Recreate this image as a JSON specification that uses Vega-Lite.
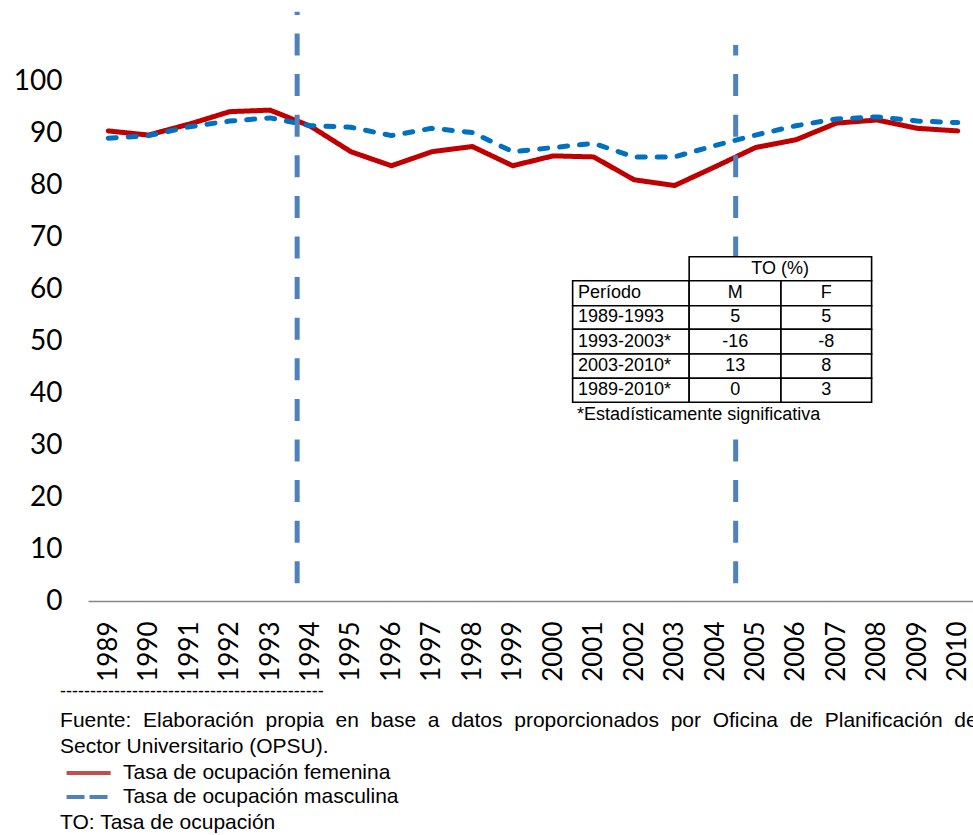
{
  "$schema": "https://vega.github.io/schema/vega-lite/v6.json",
  "width": 890,
  "height": 598,
  "autosize": "none",
  "padding": {"left": 88, "top": 3, "right": 0, "bottom": 234},
  "background": "white",
  "config": {"view": {"stroke": null}, "axis": {"grid": false}},
  "resolve": {"scale": {"strokeDash": "independent", "stroke": "independent", "color": "independent"}},
  "datasets": {
    "series": [
      {"year": 1989, "serie": "Tasa de ocupación femenina", "value": 90.4},
      {"year": 1990, "serie": "Tasa de ocupación femenina", "value": 89.6},
      {"year": 1991, "serie": "Tasa de ocupación femenina", "value": 91.7},
      {"year": 1992, "serie": "Tasa de ocupación femenina", "value": 94.1},
      {"year": 1993, "serie": "Tasa de ocupación femenina", "value": 94.4},
      {"year": 1994, "serie": "Tasa de ocupación femenina", "value": 91.3},
      {"year": 1995, "serie": "Tasa de ocupación femenina", "value": 86.4},
      {"year": 1996, "serie": "Tasa de ocupación femenina", "value": 83.7},
      {"year": 1997, "serie": "Tasa de ocupación femenina", "value": 86.4},
      {"year": 1998, "serie": "Tasa de ocupación femenina", "value": 87.4},
      {"year": 1999, "serie": "Tasa de ocupación femenina", "value": 83.7},
      {"year": 2000, "serie": "Tasa de ocupación femenina", "value": 85.6},
      {"year": 2001, "serie": "Tasa de ocupación femenina", "value": 85.4},
      {"year": 2002, "serie": "Tasa de ocupación femenina", "value": 81.0},
      {"year": 2003, "serie": "Tasa de ocupación femenina", "value": 79.9},
      {"year": 2004, "serie": "Tasa de ocupación femenina", "value": 83.5},
      {"year": 2005, "serie": "Tasa de ocupación femenina", "value": 87.2},
      {"year": 2006, "serie": "Tasa de ocupación femenina", "value": 88.7},
      {"year": 2007, "serie": "Tasa de ocupación femenina", "value": 91.9},
      {"year": 2008, "serie": "Tasa de ocupación femenina", "value": 92.5},
      {"year": 2009, "serie": "Tasa de ocupación femenina", "value": 90.9},
      {"year": 2010, "serie": "Tasa de ocupación femenina", "value": 90.4},
      {"year": 1989, "serie": "Tasa de ocupación masculina", "value": 89.0},
      {"year": 1990, "serie": "Tasa de ocupación masculina", "value": 89.5},
      {"year": 1991, "serie": "Tasa de ocupación masculina", "value": 91.2},
      {"year": 1992, "serie": "Tasa de ocupación masculina", "value": 92.3},
      {"year": 1993, "serie": "Tasa de ocupación masculina", "value": 92.9},
      {"year": 1994, "serie": "Tasa de ocupación masculina", "value": 91.4},
      {"year": 1995, "serie": "Tasa de ocupación masculina", "value": 91.1},
      {"year": 1996, "serie": "Tasa de ocupación masculina", "value": 89.5},
      {"year": 1997, "serie": "Tasa de ocupación masculina", "value": 90.9},
      {"year": 1998, "serie": "Tasa de ocupación masculina", "value": 90.1},
      {"year": 1999, "serie": "Tasa de ocupación masculina", "value": 86.4},
      {"year": 2000, "serie": "Tasa de ocupación masculina", "value": 87.2},
      {"year": 2001, "serie": "Tasa de ocupación masculina", "value": 88.0},
      {"year": 2002, "serie": "Tasa de ocupación masculina", "value": 85.4},
      {"year": 2003, "serie": "Tasa de ocupación masculina", "value": 85.4},
      {"year": 2004, "serie": "Tasa de ocupación masculina", "value": 87.6},
      {"year": 2005, "serie": "Tasa de ocupación masculina", "value": 89.6},
      {"year": 2006, "serie": "Tasa de ocupación masculina", "value": 91.4},
      {"year": 2007, "serie": "Tasa de ocupación masculina", "value": 92.7},
      {"year": 2008, "serie": "Tasa de ocupación masculina", "value": 93.1},
      {"year": 2009, "serie": "Tasa de ocupación masculina", "value": 92.3},
      {"year": 2010, "serie": "Tasa de ocupación masculina", "value": 92.0}
    ],
    "rules": [
      {"x": 1993.67, "y0": 3.4, "y1": 113.3},
      {"x": 2004.51, "y0": 3.4, "y1": 106.9}
    ],
    "bg": [
      {"x0": 2000.48, "x1": 2007.87, "y0": 33.3, "y1": 66.21}
    ],
    "cells": [
      {"x0": 2003.36, "x1": 2007.87, "y0": 61.6, "y1": 66.21},
      {"x0": 2000.48, "x1": 2003.36, "y0": 56.79, "y1": 61.6},
      {"x0": 2003.36, "x1": 2005.63, "y0": 56.79, "y1": 61.6},
      {"x0": 2005.63, "x1": 2007.87, "y0": 56.79, "y1": 61.6},
      {"x0": 2000.48, "x1": 2003.36, "y0": 52.25, "y1": 56.79},
      {"x0": 2003.36, "x1": 2005.63, "y0": 52.25, "y1": 56.79},
      {"x0": 2005.63, "x1": 2007.87, "y0": 52.25, "y1": 56.79},
      {"x0": 2000.48, "x1": 2003.36, "y0": 47.5, "y1": 52.25},
      {"x0": 2003.36, "x1": 2005.63, "y0": 47.5, "y1": 52.25},
      {"x0": 2005.63, "x1": 2007.87, "y0": 47.5, "y1": 52.25},
      {"x0": 2000.48, "x1": 2003.36, "y0": 42.83, "y1": 47.5},
      {"x0": 2003.36, "x1": 2005.63, "y0": 42.83, "y1": 47.5},
      {"x0": 2005.63, "x1": 2007.87, "y0": 42.83, "y1": 47.5},
      {"x0": 2000.48, "x1": 2003.36, "y0": 38.21, "y1": 42.83},
      {"x0": 2003.36, "x1": 2005.63, "y0": 38.21, "y1": 42.83},
      {"x0": 2005.63, "x1": 2007.87, "y0": 38.21, "y1": 42.83}
    ],
    "centertext": [
      {"label": "TO (%)", "x": 2005.61, "y": 63.9},
      {"label": "M", "x": 2004.5, "y": 59.19},
      {"label": "F", "x": 2006.75, "y": 59.19},
      {"label": "5", "x": 2004.5, "y": 54.52},
      {"label": "5", "x": 2006.75, "y": 54.52},
      {"label": "-16", "x": 2004.5, "y": 49.87},
      {"label": "-8", "x": 2006.75, "y": 49.87},
      {"label": "13", "x": 2004.5, "y": 45.15},
      {"label": "8", "x": 2006.75, "y": 45.15},
      {"label": "0", "x": 2004.5, "y": 40.52},
      {"label": "3", "x": 2006.75, "y": 40.52}
    ],
    "lefttext": [
      {"label": "Período", "x": 2000.61, "y": 59.19},
      {"label": "1989-1993", "x": 2000.61, "y": 54.52},
      {"label": "1993-2003*", "x": 2000.61, "y": 49.87},
      {"label": "2003-2010*", "x": 2000.61, "y": 45.15},
      {"label": "1989-2010*", "x": 2000.61, "y": 40.52},
      {"label": "*Estadísticamente significativa", "x": 2000.59, "y": 35.77},
      {"label": "--------------------------------------------", "x": 1987.81, "y": -17.5}
    ],
    "footer": [
      {"label": "Fuente:\u00a0 Elaboración\u00a0 propia\u00a0 en\u00a0 base\u00a0 a\u00a0 datos\u00a0 proporcionados\u00a0 por\u00a0 Oficina\u00a0 de\u00a0 Planificación\u00a0 del", "x": 1987.81, "y": -23.0},
      {"label": "Sector Universitario (OPSU).", "x": 1987.81, "y": -28.1},
      {"label": "Tasa de ocupación femenina", "x": 1989.365, "y": -33.1},
      {"label": "Tasa de ocupación masculina", "x": 1989.365, "y": -37.7},
      {"label": "TO: Tasa de ocupación", "x": 1987.81, "y": -42.6}
    ],
    "legendlines": [
      {"serie": "Tasa de ocupación femenina", "x0": 1987.97, "x1": 1989.06, "y": -33.1},
      {"serie": "Tasa de ocupación masculina", "x0": 1987.97, "x1": 1988.99, "y": -37.7}
    ]
  },
  "layer": [
    {
      "data": {"name": "series"},
      "mark": {"type": "line", "strokeWidth": 5, "strokeCap": "round", "strokeJoin": "round"},
      "encoding": {
        "x": {
          "field": "year", "type": "quantitative", "title": null,
          "scale": {"domain": [1988.5, 2010.5], "nice": false, "zero": false},
          "axis": {
            "values": [1989,1990,1991,1992,1993,1994,1995,1996,1997,1998,1999,2000,2001,2002,2003,2004,2005,2006,2007,2008,2009,2010],
            "format": "d", "labelAngle": -90, "labelAlign": "right", "labelBaseline": "middle",
            "labelFont": "Lato", "labelFontSize": 26, "labelColor": "#000000",
            "labelPadding": 20, "labelFlush": false, "labelOverlap": false,
            "ticks": false, "domain": true, "domainColor": "#868686", "domainWidth": 1.5, "grid": false
          }
        },
        "y": {
          "field": "value", "type": "quantitative", "title": null,
          "scale": {"domain": [0, 115], "nice": false, "zero": true},
          "axis": {
            "values": [0,10,20,30,40,50,60,70,80,90,100],
            "labelFont": "Lato", "labelFontSize": 28, "labelColor": "#000000",
            "labelPadding": 26, "ticks": false, "domain": false, "grid": false, "labelFlush": false
          }
        },
        "color": {
          "field": "serie", "type": "nominal",
          "scale": {"domain": ["Tasa de ocupación femenina", "Tasa de ocupación masculina"], "range": ["#c00000", "#0070c0"]},
          "legend": null
        },
        "strokeDash": {
          "field": "serie", "type": "nominal",
          "scale": {"domain": ["Tasa de ocupación femenina", "Tasa de ocupación masculina"], "range": [[1, 0], [8, 12]]},
          "legend": null
        }
      }
    },
    {
      "data": {"name": "legendlines"},
      "mark": {"type": "rule", "strokeWidth": 4, "strokeCap": "butt"},
      "encoding": {
        "x": {"field": "x0", "type": "quantitative", "title": null, "scale": {"domain": [1988.5, 2010.5], "nice": false, "zero": false}},
        "x2": {"field": "x1"},
        "y": {"field": "y", "type": "quantitative", "title": null, "scale": {"domain": [0, 115], "nice": false, "zero": true}},
        "stroke": {
          "field": "serie", "type": "nominal", "legend": null,
          "scale": {"domain": ["Tasa de ocupación femenina", "Tasa de ocupación masculina"], "range": ["#c0504d", "#4f81bd"]}
        },
        "strokeDash": {
          "field": "serie", "type": "nominal", "legend": null,
          "scale": {"domain": ["Tasa de ocupación femenina", "Tasa de ocupación masculina"], "range": [[1, 0], [18, 5]]}
        }
      }
    },
    {
      "data": {"name": "rules"},
      "mark": {"type": "rule", "color": "#4f81bd", "strokeWidth": 5, "strokeDash": [22, 18.6], "strokeCap": "butt"},
      "encoding": {
        "x": {"field": "x", "type": "quantitative", "title": null, "scale": {"domain": [1988.5, 2010.5], "nice": false, "zero": false}},
        "y": {"field": "y0", "type": "quantitative", "title": null, "scale": {"domain": [0, 115], "nice": false, "zero": true}},
        "y2": {"field": "y1"}
      }
    },
    {
      "data": {"name": "bg"},
      "mark": {"type": "rect", "fill": "white", "stroke": null},
      "encoding": {
        "x": {"field": "x0", "type": "quantitative", "title": null, "scale": {"domain": [1988.5, 2010.5], "nice": false, "zero": false}},
        "x2": {"field": "x1"},
        "y": {"field": "y0", "type": "quantitative", "title": null, "scale": {"domain": [0, 115], "nice": false, "zero": true}},
        "y2": {"field": "y1"}
      }
    },
    {
      "data": {"name": "cells"},
      "mark": {"type": "rect", "fill": "white", "stroke": "#000000", "strokeWidth": 1.6},
      "encoding": {
        "x": {"field": "x0", "type": "quantitative", "title": null, "scale": {"domain": [1988.5, 2010.5], "nice": false, "zero": false}},
        "x2": {"field": "x1"},
        "y": {"field": "y0", "type": "quantitative", "title": null, "scale": {"domain": [0, 115], "nice": false, "zero": true}},
        "y2": {"field": "y1"}
      }
    },
    {
      "data": {"name": "centertext"},
      "mark": {"type": "text", "font": "Liberation Sans", "fontSize": 18, "color": "#000000", "align": "center", "baseline": "middle"},
      "encoding": {
        "x": {"field": "x", "type": "quantitative", "title": null, "scale": {"domain": [1988.5, 2010.5], "nice": false, "zero": false}},
        "y": {"field": "y", "type": "quantitative", "title": null, "scale": {"domain": [0, 115], "nice": false, "zero": true}},
        "text": {"field": "label", "type": "nominal"}
      }
    },
    {
      "data": {"name": "lefttext"},
      "mark": {"type": "text", "font": "Liberation Sans", "fontSize": 18, "color": "#000000", "align": "left", "baseline": "middle", "limit": 0},
      "encoding": {
        "x": {"field": "x", "type": "quantitative", "title": null, "scale": {"domain": [1988.5, 2010.5], "nice": false, "zero": false}},
        "y": {"field": "y", "type": "quantitative", "title": null, "scale": {"domain": [0, 115], "nice": false, "zero": true}},
        "text": {"field": "label", "type": "nominal"}
      }
    },
    {
      "data": {"name": "footer"},
      "mark": {"type": "text", "font": "Liberation Sans", "fontSize": 21, "color": "#000000", "align": "left", "baseline": "middle", "limit": 0},
      "encoding": {
        "x": {"field": "x", "type": "quantitative", "title": null, "scale": {"domain": [1988.5, 2010.5], "nice": false, "zero": false}},
        "y": {"field": "y", "type": "quantitative", "title": null, "scale": {"domain": [0, 115], "nice": false, "zero": true}},
        "text": {"field": "label", "type": "nominal"}
      }
    }
  ]
}
